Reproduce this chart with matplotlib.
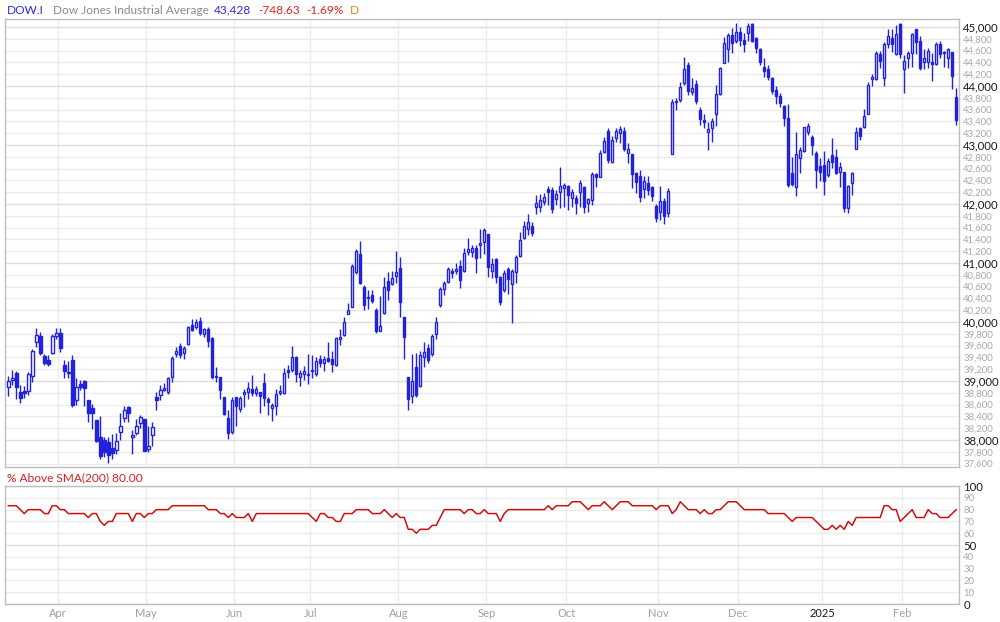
import numpy as np
import pandas as pd
import matplotlib
matplotlib.use('Agg')
import matplotlib.pyplot as plt

# daily OHLC of the Dow, Mar 12 2024 .. Feb 21 2025
open_ = [
    38890, 39010, 39140, 38810, 38830, 38830, 39090, 39660, 39760, 39420, 39360, 39470, 39760,
    39810, 39270, 39150, 39360, 38680, 38950, 39000, 38680, 38540, 38340, 38050, 38000, 37970, 37860, 37830, 38130, 38370, 38560, 38050, 38120, 38290, 38350,
    37850, 38080, 38720, 38770, 38840, 38810, 39060, 39450, 39600, 39470, 39630, 39950, 39910, 40010, 39800, 39880, 39730, 39090, 39060, 38730, 38370, 38130,
    38720, 38520, 38780, 38810, 38860, 38790, 38820, 38970, 38700, 38540, 38570, 38790, 38790, 39180, 39190, 39400, 39060, 39120, 39100,
    39190, 39110, 39380, 39310, 39390, 39370, 39270, 39710, 39780, 40140, 40250, 40840, 41160, 40590, 40400, 40460, 40210, 39850, 40150, 40690, 40640, 40780,
    40920, 40085, 39070, 38740, 39240, 38920, 39410, 39560, 39450, 39800, 40280, 40560, 40680, 40870, 40860, 40950, 40870, 41190, 41180, 41250, 41300, 41360,
    41490, 40870, 41070, 40760, 40540, 40900, 40640, 40850, 41110, 41420, 41570, 41620, 41950, 41950, 42040, 42250, 42230, 42080, 42200, 42270,
    42310, 42100, 42100, 42200, 42280, 42020, 42060, 42510, 42460, 42880, 43240, 42720, 43120, 43200, 43230, 42870, 42850, 42530, 42480, 42250, 42350, 42290, 41970,
    41860, 42050, 41850, 42850, 43750, 43760, 44050, 44360, 43900, 44040, 43590, 43430, 43220, 43290, 43530, 43870, 44390, 44620, 44860, 44760,
    44910, 44780, 44900, 45050, 44810, 44620, 44320, 44290, 44140, 43940, 43830, 43660, 43460, 42520, 42280, 42780, 42890, 43220, 43130, 42870, 42640,
    42660, 42490, 42830, 42800, 42550, 42540, 41940, 42360, 42930, 43280, 43300, 43530, 44120, 44120, 44550, 44140, 44720, 44810, 44540, 45050,
    44280, 44470, 44560, 44960, 44760, 44400, 44400, 44400, 44380, 44710, 44580, 44480, 44570, 43810,
]
high = [
    39090, 39180, 39170, 38930, 38920, 39150, 39540, 39900, 39830, 39460, 39440, 39790, 39890,
    39900, 39360, 39340, 39440, 39050, 39020, 39010, 38680, 38610, 38340, 38410, 38050, 38050, 38100, 38120, 38460, 38580, 38570, 38170, 38350, 38420, 38360,
    38230, 38300, 38810, 38930, 38960, 39070, 39420, 39580, 39640, 39600, 39940, 40050, 40050, 40080, 39900, 39920, 39740, 39230, 39060, 38730, 38500, 38720,
    38730, 38740, 38860, 38980, 39100, 38920, 38820, 39140, 38720, 38620, 38860, 38930, 39220, 39270, 39590, 39420, 39190, 39250, 39460,
    39440, 39400, 39440, 39420, 39660, 39500, 39740, 39880, 40080, 40330, 40990, 41240, 41370, 40630, 40540, 40540, 40230, 40440, 40760, 40850, 40860, 41200,
    41100, 40085, 39070, 39460, 39480, 39510, 39660, 39620, 39800, 40080, 40600, 40700, 40930, 40920, 41000, 41050, 41250, 41420, 41300, 41300, 41580, 41590,
    41490, 41080, 41090, 40780, 40880, 40940, 40900, 41130, 41530, 41710, 41830, 41700, 42150, 42170, 42190, 42300, 42280, 42230, 42630, 42360,
    42320, 42250, 42150, 42400, 42300, 42100, 42550, 42520, 42920, 43140, 43290, 43160, 43290, 43330, 43310, 43030, 42850, 42540, 42580, 42480, 42480, 42300, 42000,
    42300, 42100, 42270, 43780, 43800, 44070, 44490, 44410, 44130, 44100, 43650, 43520, 43390, 43460, 44020, 44330, 44830, 44900, 44990, 45070,
    45000, 44890, 45070, 45070, 44830, 44640, 44480, 44360, 44160, 44000, 43880, 43680, 43700, 42800, 43220, 42960, 43300, 43380, 43170, 42900, 42780,
    42900, 42780, 43110, 42940, 42710, 42550, 42330, 42540, 43310, 43300, 43610, 44070, 44200, 44590, 44590, 44750, 44960, 44960, 45040, 45070,
    44520, 44600, 44890, 44970, 44850, 44630, 44650, 44560, 44750, 44760, 44600, 44650, 44580, 43970,
]
low = [
    38740, 38930, 38700, 38630, 38710, 38760, 38990, 39580, 39440, 39270, 39260, 39450, 39710,
    39490, 39050, 39050, 38560, 38590, 38850, 38570, 38300, 38190, 37960, 37680, 37710, 37610, 37680, 37760, 38000, 38300, 38300, 37760, 38080, 38200, 37810,
    37790, 37890, 38510, 38680, 38830, 38780, 38980, 39400, 39390, 39370, 39610, 39840, 39880, 39780, 39740, 39580, 39040, 38980, 38700, 38420, 38020, 38100,
    38230, 38480, 38560, 38700, 38740, 38740, 38450, 38580, 38420, 38330, 38420, 38760, 38780, 39050, 39150, 38980, 38910, 39020, 38950,
    39050, 39080, 39240, 39170, 39330, 39150, 39250, 39610, 39770, 40130, 40250, 40820, 40650, 40200, 40220, 40320, 39820, 39840, 40140, 40370, 40620, 40660,
    40080, 39370, 38500, 38620, 38720, 38900, 39240, 39310, 39420, 39720, 40260, 40450, 40660, 40750, 40810, 40580, 40840, 41130, 41100, 40830, 41090, 41150,
    40760, 40750, 40660, 40280, 40500, 40470, 39990, 40660, 41100, 41400, 41480, 41450, 41830, 41860, 41990, 41980, 41850, 41990, 41930, 41950,
    41900, 41950, 41830, 41950, 41840, 41870, 41990, 42280, 42450, 42860, 42700, 42700, 43050, 43040, 42900, 42700, 42270, 42180, 42030, 42100, 42150, 42050, 41700,
    41730, 41660, 41780, 42850, 43600, 43730, 44020, 43850, 43850, 43700, 43340, 43290, 42920, 43050, 43320, 43850, 44390, 44400, 44560, 44730,
    44680, 44570, 44770, 44740, 44560, 44360, 44150, 44100, 43870, 43700, 43640, 43320, 42290, 42300, 42140, 42530, 42880, 43170, 42830, 42270, 42390,
    42150, 42460, 42610, 42510, 42290, 41860, 41840, 42150, 42930, 43080, 43280, 43520, 44000, 44100, 44300, 44000, 44640, 44570, 44520, 44480,
    43880, 44300, 44330, 44540, 44270, 44290, 44300, 44080, 44350, 44480, 44320, 44300, 43950, 43340,
]
close = [
    39005, 39043, 38905, 38715, 38790, 39110, 39512, 39781, 39476, 39313, 39282, 39760, 39807,
    39567, 39170, 39127, 38596, 38904, 38892, 38883, 38461, 38459, 37983, 37735, 37798, 37753, 37775, 37986, 38240, 38504, 38460, 38086, 38240, 38386, 37816,
    37903, 38226, 38676, 38852, 38884, 39056, 39388, 39513, 39432, 39558, 39908, 39869, 40003, 39807, 39873, 39671, 39065, 39070, 38852, 38441, 38112, 38686,
    38571, 38711, 38807, 38886, 38799, 38868, 38747, 38712, 38647, 38589, 38778, 38834, 39134, 39150, 39411, 39112, 39127, 39164, 39118,
    39169, 39331, 39308, 39375, 39344, 39291, 39721, 39753, 40000, 40211, 40954, 41198, 40665, 40288, 40415, 40358, 39854, 39935, 40589, 40539, 40743, 40842,
    40347, 39737, 38703, 38997, 38763, 39446, 39497, 39357, 39765, 40008, 40563, 40659, 40896, 40834, 40890, 40712, 41175, 41240, 41250, 41091, 41335, 41563,
    40937, 40975, 40755, 40345, 40830, 40737, 40861, 41097, 41394, 41622, 41690, 41504, 42025, 42063, 42125, 42208, 41915, 42175, 42313, 42330,
    42156, 42197, 42012, 42353, 41954, 42080, 42512, 42454, 42864, 43065, 42740, 43077, 43239, 43276, 42931, 42925, 42514, 42374, 42114, 42387, 42234, 42142, 41763,
    42052, 41794, 42222, 43729, 43729, 43989, 44293, 43911, 43958, 43751, 43445, 43390, 43269, 43408, 43870, 44297, 44736, 44860, 44722, 44911,
    44782, 44705, 45014, 44766, 44643, 44402, 44248, 44149, 43915, 43828, 43717, 43450, 42327, 42342, 42840, 42907, 43297, 43325, 42992, 42573, 42544,
    42392, 42732, 42706, 42528, 42635, 41938, 42297, 42518, 43222, 43153, 43488, 44025, 44157, 44565, 44424, 44714, 44850, 44714, 44882, 44545,
    44422, 44556, 44873, 44747, 44303, 44470, 44594, 44369, 44711, 44546, 44556, 44627, 44177, 43428,
]
# % of the 30 components above their 200-day SMA
pct_above = [
    83.33, 83.33, 83.33, 80, 76.67, 80, 80, 80, 80, 76.67, 76.67, 83.33, 83.33,
    80, 80, 76.67, 76.67, 76.67, 76.67, 76.67, 73.33, 76.67, 76.67, 70, 66.67, 70, 70, 76.67, 76.67, 76.67, 76.67, 70, 76.67, 76.67, 73.33,
    76.67, 76.67, 80, 80, 80, 80, 83.33, 83.33, 83.33, 83.33, 83.33, 83.33, 83.33, 83.33, 83.33, 80, 80, 80, 76.67, 76.67, 73.33, 76.67,
    73.33, 73.33, 73.33, 76.67, 70, 76.67, 76.67, 76.67, 76.67, 76.67, 76.67, 76.67, 76.67, 76.67, 76.67, 76.67, 76.67, 76.67, 76.67,
    73.33, 70, 76.67, 76.67, 73.33, 73.33, 70, 70, 76.67, 76.67, 76.67, 80, 80, 80, 80, 76.67, 76.67, 76.67, 80, 76.67, 73.33, 76.67,
    73.33, 73.33, 63.33, 63.33, 60, 63.33, 63.33, 63.33, 66.67, 66.67, 73.33, 80, 80, 80, 80, 80, 76.67, 80, 80, 76.67, 76.67, 80,
    76.67, 76.67, 76.67, 70, 76.67, 80, 80, 80, 80, 80, 80, 80, 80, 80, 80, 83.33, 80, 83.33, 83.33, 83.33,
    83.33, 86.67, 86.67, 86.67, 83.33, 80, 83.33, 83.33, 83.33, 86.67, 83.33, 80, 83.33, 86.67, 86.67, 86.67, 83.33, 83.33, 83.33, 83.33, 83.33, 83.33, 80,
    83.33, 83.33, 83.33, 76.67, 80, 86.67, 83.33, 80, 80, 80, 76.67, 80, 76.67, 76.67, 80, 80, 83.33, 86.67, 86.67, 86.67,
    83.33, 80, 80, 80, 80, 80, 80, 76.67, 76.67, 76.67, 76.67, 76.67, 73.33, 70, 73.33, 73.33, 73.33, 73.33, 73.33, 70, 66.67,
    63.33, 63.33, 66.67, 63.33, 66.67, 63.33, 70, 66.67, 73.33, 73.33, 73.33, 73.33, 73.33, 73.33, 73.33, 83.33, 83.33, 80, 80, 70,
    73.33, 76.67, 80, 73.33, 73.33, 73.33, 80, 76.67, 76.67, 73.33, 73.33, 73.33, 76.67, 80,
]
holidays = ['2024-03-29', '2024-05-27', '2024-06-19', '2024-07-04', '2024-09-02',
            '2024-11-28', '2024-12-25', '2025-01-01', '2025-01-09', '2025-01-20', '2025-02-17']
dates = pd.bdate_range('2024-03-12', '2025-02-21', freq='C', holidays=holidays)

BLUE = '#2222dd'
GRID = '#ebebeb'
GRID_MAJOR = '#dedede'
FRAME = '#bdbdbd'
plt.rcParams['font.family'] = ['Lato', 'DejaVu Sans']

o = np.array(open_, dtype=float)
h = np.array(high, dtype=float)
l = np.array(low, dtype=float)
c = np.array(close, dtype=float)
x = np.arange(len(c))

# month boundaries for the vertical grid and the labels
months = dates.to_period('M')
starts = [i for i in range(1, len(dates)) if months[i] != months[i - 1]]
mpos = [i - 0.5 for i in starts]
mlab = [dates[i].strftime('%Y') if dates[i].month == 1 else dates[i].strftime('%b') for i in starts]

fig = plt.figure(figsize=(10, 6.22), dpi=100)
ax = fig.add_axes([0.005, 0.2492, 0.954, 0.7203])
ax2 = fig.add_axes([0.005, 0.0289, 0.954, 0.1897])

# candles
ax.vlines(x, l, h, color=BLUE, lw=1, zorder=2)
up = c >= o
bottom = np.minimum(o, c)
height = np.maximum(np.abs(c - o), 12)
ax.bar(x[up], height[up], bottom=bottom[up], width=0.6, facecolor='white',
       edgecolor=BLUE, linewidth=1, zorder=3)
ax.bar(x[~up], height[~up], bottom=bottom[~up], width=0.6, facecolor=BLUE,
       edgecolor=BLUE, linewidth=1, zorder=3)

ax.set_xlim(-0.83, 237.7)
ax.set_ylim(37542, 45136)
yt = list(range(37600, 45001, 200))
ax.set_yticks(yt)
ax.set_yticklabels([f'{v:,}' for v in yt])
ax.yaxis.tick_right()
ax.tick_params(axis='y', length=0, pad=3)
for lab, v in zip(ax.get_yticklabels(), yt):
    if v % 1000 == 0:
        lab.set_color('#1a1a1a')
        lab.set_fontsize(8.2)
    else:
        lab.set_color('#a8a8a8')
        lab.set_fontsize(6.8)
ax.set_xticks(mpos)
ax.set_xticklabels([])
ax.tick_params(axis='x', length=0)
ax.grid(True, color=GRID, lw=1, zorder=0)
for gl, v in zip(ax.get_ygridlines(), yt):
    if v % 1000 == 0:
        gl.set_color(GRID_MAJOR)
ax.set_axisbelow(True)

# lower panel
ax2.plot(x, pct_above, color='#cc1111', lw=1.1)
ax2.set_xlim(-0.83, 237.7)
ax2.set_ylim(0, 100)
pt = list(range(0, 101, 10))
ax2.set_yticks(pt)
ax2.set_yticklabels([str(v) for v in pt])
ax2.yaxis.tick_right()
ax2.tick_params(axis='y', length=0, pad=3)
for lab, v in zip(ax2.get_yticklabels(), pt):
    if v % 50 == 0:
        lab.set_color('#1a1a1a')
        lab.set_fontsize(8.2)
    else:
        lab.set_color('#a8a8a8')
        lab.set_fontsize(6.8)
ax2.set_xticks(mpos)
ax2.set_xticklabels(mlab)
ax2.tick_params(axis='x', length=0, pad=3)
for lab in ax2.get_xticklabels():
    lab.set_fontsize(8)
    lab.set_color('#1a1a1a' if lab.get_text() == '2025' else '#a0a0a0')
ax2.grid(True, color=GRID, lw=1, zorder=0)
for gl, v in zip(ax2.get_ygridlines(), pt):
    if v == 50:
        gl.set_color(GRID_MAJOR)
ax2.set_axisbelow(True)

for a in (ax, ax2):
    for s in a.spines.values():
        s.set_color(FRAME)
        s.set_linewidth(1)

# header texts
def head(px, txt, col, y=10):
    fig.text(px / 1000, 1 - y / 622, txt, color=col, fontsize=8.6, va='center', ha='left')

head(7, 'DOW.I', '#2a2ad8')
head(53, 'Dow Jones Industrial Average', '#8a8a8a')
head(214, '43,428', '#2a2ad8')
head(258, '-748.63', '#e02424')
head(306, '-1.69%', '#e02424')
head(350, 'D', '#e8841a')
head(7, '% Above SMA(200) 80.00', '#d42020', y=478)

fig.savefig('out.png', dpi=100)
